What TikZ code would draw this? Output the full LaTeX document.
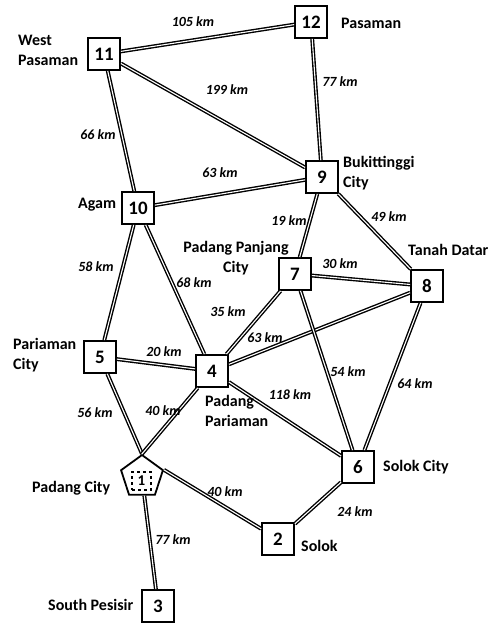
\documentclass[tikz,border=0pt]{standalone}
\usepackage{fontspec}
\setmainfont{Carlito}
\usetikzlibrary{shapes.geometric}

\tikzset{
  town/.style={draw, line width=1.8pt, fill=white, minimum size=32pt, inner sep=0pt,
    font=\fontsize{19}{19}\selectfont\bfseries},
  capital/.style={draw, line width=1.8pt, fill=white, regular polygon, regular polygon sides=5,
    minimum size=44pt, inner sep=0pt},
  road/.style={line width=1.4pt, double=white, double distance=1.1pt},
  km/.style={font=\fontsize{14}{14}\selectfont\bfseries\itshape, inner sep=0pt},
  place/.style={font=\fontsize{16}{20}\selectfont\bfseries, inner sep=0pt, align=left},
}

\begin{document}
\begin{tikzpicture}[x=1pt,y=-1pt]
  \useasboundingbox (0,0) rectangle (491,624);

  % regencies and cities
  \node[capital] (1) at (142,477) {};
  \node[draw, dashed, line width=1.2pt, minimum width=19pt, minimum height=18pt, inner sep=0pt,
    font=\fontsize{15}{15}\selectfont\bfseries] (1in) at (141.5,481) {1};
  \foreach \n/\x/\y in {2/278/539, 3/158/606, 4/212/371, 5/100/357, 6/358/467, 7/295/274,
      8/427/286, 9/322/177, 10/138/208, 11/104/54, 12/311/22}
    \node[town] (\n) at (\x,\y) {\n};

  % roads
  \foreach \a/\b in {11/12, 11/10, 11/9, 12/9, 10/9, 10/5, 10/4, 9/7, 9/8, 7/8, 7/4, 8/4,
      7/6, 8/6, 5/4, 4/6, 6/2, 1/3}
    \draw[road] (\a) -- (\b);
  \draw[road] (5) -- (1.corner 1);
  \draw[road] (4) -- (1.corner 1);
  \draw[road] (1.corner 5) -- (2);

  % distances
  \foreach \x/\y/\d [count=\i] in {193/22/105, 227/90/199, 98/135/66, 340/82/77, 220/173/63,
      289/221/19, 389/217/49, 340/264/30, 96/267/58, 194/283/68, 228/312/35, 265/338/63,
      164/352/20, 348/372/54, 415/384/64, 290/395/118, 95/413/56, 163/411/40, 225/492/40,
      355/512/24, 173/540/77}
    \node[km] (km\i) at (\x,\y) {\d~km};

  % names
  \node[place, anchor=west] (n11) at (18,50) {West\\Pasaman};
  \node[place, anchor=west] (n12) at (341,23) {Pasaman};
  \node[place, anchor=west] (n9) at (343,173) {Bukittinggi\\City};
  \node[place, anchor=west] (n10) at (78,205) {Agam};
  \node[place, align=center] (n7) at (236,258) {Padang Panjang\\City};
  \node[place, anchor=west] (n8) at (408,250) {Tanah Datar};
  \node[place, anchor=west] (n5) at (13,355) {Pariaman\\City};
  \node[place, anchor=west] (n4) at (205,411) {Padang\\Pariaman};
  \node[place, anchor=west] (n6) at (383,467) {Solok City};
  \node[place, anchor=west] (n1) at (32,488) {Padang City};
  \node[place, anchor=west] (n2) at (301,546) {Solok};
  \node[place, anchor=west] (n3) at (48,605) {South Pesisir};
\end{tikzpicture}
\end{document}
